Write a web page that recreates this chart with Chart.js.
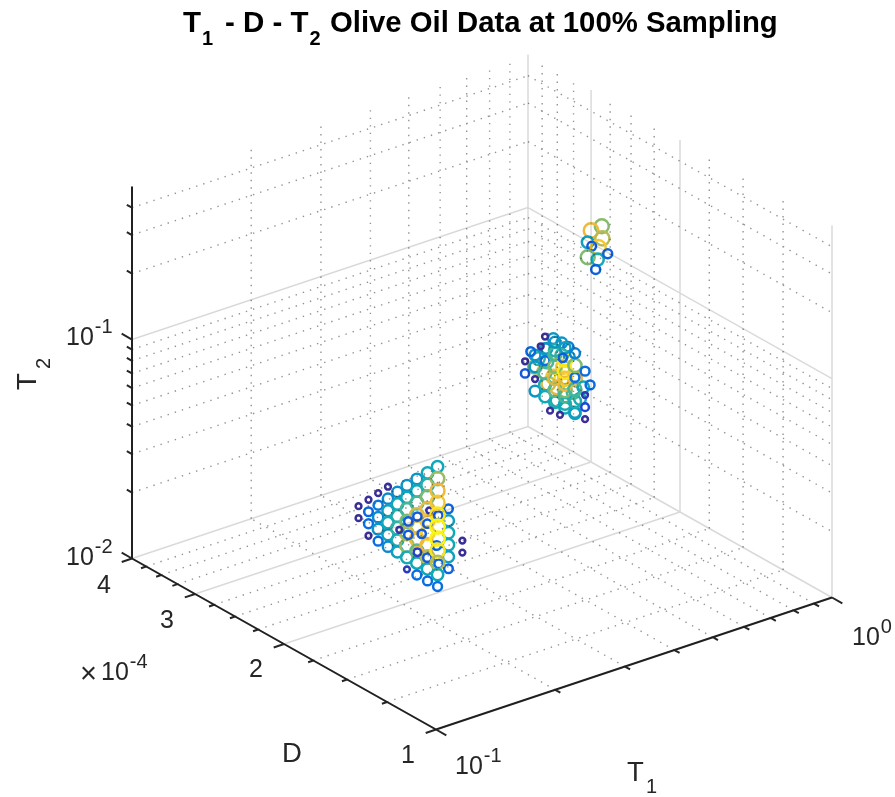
<!DOCTYPE html>
<html>
<head>
<meta charset="utf-8">
<title>T1 - D - T2 Olive Oil Data</title>
<style>
html, body { margin: 0; padding: 0; background: #fff; }
canvas { display: block; }
</style>
<script src="https://cdn.jsdelivr.net/npm/chart.js@4"></script>
</head>
<body>
<canvas id="oilChart" width="895" height="797"></canvas>
<script>
// axis limits and ticks (D is in units of 1e-4)
const t1Lim = [0.1, 1];
const dLim = [1, 4];
const t2Lim = [0.01, 0.5];
const t1Minor = [0.2, 0.3, 0.4, 0.5, 0.6, 0.7, 0.8, 0.9];
const dMajor = [1, 2, 3, 4];
const dMinor = [1.25, 1.5, 1.75, 2.25, 2.5, 2.75, 3.25, 3.5, 3.75];
const t2Major = [0.01, 0.1];
const t2Minor = [0.02, 0.03, 0.04, 0.05, 0.06, 0.07, 0.08, 0.09, 0.2, 0.3, 0.4];

// T1 of each of the three peaks
const lowT1 = 0.2;
const midT1 = 0.4;
const topT1 = 0.6;

// lowest peak
const lowD = [
    2.452, 2.452,
    2.343, 2.343, 2.343, 2.343,
    2.242, 2.242, 2.242, 2.242, 2.242,
    2.144, 2.144, 2.144, 2.144, 2.144, 2.144,
    2.053, 2.053, 2.053, 2.053, 2.053, 2.053,
    1.966, 1.966, 1.966, 1.966, 1.966, 1.966, 1.966, 1.966,
    1.879, 1.879, 1.879, 1.879, 1.879, 1.879, 1.879, 1.879, 1.879,
    1.527, 1.527,
    1.627, 1.627, 1.627, 1.627, 1.627, 1.627,
    1.790, 1.790, 1.790, 1.790, 1.790, 1.790, 1.790, 1.790, 1.790, 1.790,
    1.954, 2.036, 1.954, 1.875, 1.776, 1.704, 1.875, 1.792, 1.701, 1.717, 1.838, 1.792,
    1.710, 1.710, 1.710, 1.710, 1.710, 1.710, 1.710, 1.710, 1.710, 1.710, 1.710
];
const lowT2 = [
    0.02154, 0.01899,
    0.02444, 0.02154, 0.01899, 0.01674,
    0.02773, 0.02444, 0.02154, 0.01899, 0.01674,
    0.03146, 0.02773, 0.02444, 0.02154, 0.01899, 0.01674,
    0.03146, 0.02773, 0.02444, 0.02154, 0.01899, 0.01674,
    0.03568, 0.03146, 0.02773, 0.02444, 0.02154, 0.01899, 0.01674, 0.01476,
    0.04048, 0.03568, 0.03146, 0.02773, 0.02444, 0.02154, 0.01899, 0.01674, 0.01476,
    0.02773, 0.02444,
    0.03568, 0.03146, 0.02773, 0.02444, 0.02154, 0.01899,
    0.04593, 0.04048, 0.03568, 0.03146, 0.02773, 0.02444, 0.02154, 0.01899, 0.01674, 0.01476,
    0.02463, 0.02138, 0.0214, 0.02735, 0.03128, 0.03134, 0.01879, 0.01882, 0.01889, 0.02261, 0.0234, 0.0269,
    0.0521, 0.04593, 0.04048, 0.03568, 0.03146, 0.02773, 0.02444, 0.02154, 0.01899, 0.01674, 0.01476
];
const lowAmp = [
    0, 0,
    0, 0.18, 0.2, 0,
    0, 0.22, 0.27, 0.3, 0.2,
    0, 0.27, 0.33, 0.35, 0.33, 0.27,
    0.28, 0.35, 0.4, 0.45, 0.38, 0.33,
    0.3, 0.35, 0.5, 0.6, 0.7, 0.65, 0.37, 0.05,
    0.3, 0.35, 0.5, 0.75, 0.8, 0.8, 0.55, 0.35, 0.2,
    0, 0,
    0.18, 0.32, 0.35, 0.35, 0.33, 0.18,
    0.35, 0.42, 0.6, 0.8, 0.85, 0.9, 0.8, 0.7, 0.35, 0.2,
    0.15, 0.02, 0.15, 0.15, 0.02, 0.15, 0.08, 0.15, 0.18, 0.18, 0.15, 0.15,
    0.35, 0.65, 0.8, 0.85, 0.95, 1, 1, 0.95, 0.7, 0.35, 0.2
];

// middle peak
const midD = [
    1.737, 1.672, 1.622, 1.79, 1.724, 1.672, 1.615, 1.86, 1.79, 1.724, 1.66, 1.888, 1.812,
    1.737, 1.672, 1.574, 1.538, 1.647, 1.71, 1.586, 1.647, 1.71, 1.777, 1.574, 1.647, 1.515,
    1.976, 1.976,
    1.888, 1.888, 1.888, 1.888,
    1.804, 1.804, 1.804, 1.804, 1.804, 1.804,
    1.724, 1.724, 1.724, 1.724, 1.724, 1.724,
    1.647, 1.647, 1.647, 1.647, 1.647, 1.647,
    1.574, 1.574, 1.574, 1.574, 1.574, 1.574,
    1.503, 1.503, 1.503, 1.503,
    1.685, 1.763, 1.84, 1.926, 1.469, 1.664
];
const midT2 = [
    0.1292, 0.1298, 0.1294, 0.1119, 0.1154, 0.1139, 0.1172, 0.0958, 0.0973, 0.0969, 0.1018, 0.0861, 0.0862,
    0.0864, 0.0892, 0.0677, 0.0803, 0.0697, 0.0687, 0.0827, 0.0802, 0.079, 0.078, 0.0962, 0.0907, 0.0925,
    0.0758, 0.0861,
    0.0668, 0.0758, 0.0861, 0.0976,
    0.0668, 0.0758, 0.0861, 0.0976, 0.1107, 0.1257,
    0.0668, 0.0758, 0.0861, 0.0976, 0.1107, 0.1257,
    0.0668, 0.0758, 0.0861, 0.0976, 0.1107, 0.1257,
    0.0668, 0.0758, 0.0861, 0.0976, 0.1107, 0.1257,
    0.0668, 0.0758, 0.0861, 0.1107,
    0.0603, 0.0594, 0.1106, 0.0987, 0.0987, 0.1116
];
const midAmp = [
    0.3, 0.3, 0.25, 0.33, 0.4, 0.45, 0.3, 0.45, 0.5, 0.75, 0.85, 0.6, 0.7,
    0.85, 0.95, 0.33, 0.38, 0.38, 0.4, 0.5, 0.6, 0.78, 0.75, 0.8, 0.85, 0.35,
    0.15, 0,
    0.3, 0, 0.3, 0.3,
    0.35, 0.38, 0.5, 0.2, 0.3, 0,
    0.37, 0.55, 0.75, 0.6, 0.5, 0.3,
    0.35, 0.5, 0.8, 0.95, 0.95, 0.32,
    0.33, 0.4, 0.5, 0.2, 0.6, 0.25,
    0, 0.1, 0.05, 0.2,
    0, 0, 0, 0.18, 0.2, 0.15
];

// top peak
const topD = [1.914, 2.01, 1.909, 2.041, 1.944, 2.004, 2.041, 1.95, 1.863, 1.968];
const topT2 = [0.2908, 0.2609, 0.257, 0.2261, 0.2285, 0.2221, 0.1931, 0.2, 0.2254, 0.1779];
const topAmp = [0.62, 0.8, 0.7, 0.33, 0.85, 0.15, 0.6, 0.36, 0.17, 0.17];

const titleParts = ["T", "1", "- D - T", "2", "Olive Oil Data at 100% Sampling"];

const ink = "#262626";
const sans = '"Liberation Sans", Arial, sans-serif';

function frac(v, lim) {
    return Math.log(v / lim[0]) / Math.log(lim[1] / lim[0]);
}

// MATLAB style 3-D view: fractions of each log axis to chart coordinates
function view(a, b, c) {
    return { x: 436 + 396 * a - 304 * b, y: 729.5 - 132 * a - 171 * b - 372 * c };
}

function project(t1, d, t2) {
    return view(frac(t1, t1Lim), frac(d, dLim), frac(t2, t2Lim));
}

// one line dataset out of many separate segments
function segments(list, color, width, dash) {
    const data = [];
    list.forEach(s => {
        data.push(s[0], s[1], { x: NaN, y: NaN });
    });
    return {
        type: "line",
        data: data,
        borderColor: color,
        borderWidth: width,
        borderDash: dash || [],
        borderCapStyle: "butt",
        pointRadius: 0,
        fill: false,
        spanGaps: false,
        clip: false,
        tension: 0
    };
}

function gridLines(t1s, ds, t2s) {
    const out = [];
    t1s.forEach(t => {
        out.push([project(t, dLim[0], t2Lim[0]), project(t, dLim[1], t2Lim[0])]); // floor
        out.push([project(t, dLim[1], t2Lim[0]), project(t, dLim[1], t2Lim[1])]); // D wall
    });
    ds.forEach(d => {
        out.push([project(t1Lim[0], d, t2Lim[0]), project(t1Lim[1], d, t2Lim[0])]); // floor
        out.push([project(t1Lim[1], d, t2Lim[0]), project(t1Lim[1], d, t2Lim[1])]); // T1 wall
    });
    t2s.forEach(t => {
        out.push([project(t1Lim[0], dLim[1], t), project(t1Lim[1], dLim[1], t)]);
        out.push([project(t1Lim[1], dLim[1], t), project(t1Lim[1], dLim[0], t)]);
    });
    return out;
}

function axisLines() {
    const out = [
        [project(t1Lim[0], dLim[0], t2Lim[0]), project(t1Lim[1], dLim[0], t2Lim[0])],
        [project(t1Lim[0], dLim[1], t2Lim[0]), project(t1Lim[0], dLim[0], t2Lim[0])],
        [project(t1Lim[0], dLim[1], t2Lim[0]), project(t1Lim[0], dLim[1], t2Lim[1])]
    ];
    const t1Tick = (t, len) => {
        const a = frac(t, t1Lim);
        out.push([view(a, 0, 0), view(a, -len, 0)]);
    };
    const dTick = (d, len) => {
        const b = frac(d, dLim);
        out.push([view(0, b, 0), view(-len, b, 0)]);
    };
    const t2Tick = (t, len) => {
        const c = frac(t, t2Lim);
        out.push([view(0, 1, c), view(0, 1 + len, c)]);
    };
    t1Lim.forEach(t => t1Tick(t, 0.034));
    t1Minor.forEach(t => t1Tick(t, 0.017));
    dMajor.forEach(d => dTick(d, 0.026));
    dMinor.forEach(d => dTick(d, 0.013));
    t2Major.forEach(t => t2Tick(t, 0.034));
    t2Minor.forEach(t => t2Tick(t, 0.017));
    return out;
}

// parula-like colours for the peak amplitude
const ampStops = [
    [0, [58, 46, 152]],
    [0.1, [30, 70, 215]],
    [0.2, [8, 110, 225]],
    [0.35, [15, 168, 185]],
    [0.5, [70, 182, 150]],
    [0.65, [155, 188, 95]],
    [0.8, [240, 185, 60]],
    [1, [250, 245, 20]]
];

function ampColor(v) {
    let i = 0;
    while (i < ampStops.length - 2 && v > ampStops[i + 1][0]) i++;
    const p = ampStops[i], q = ampStops[i + 1];
    const f = (v - p[0]) / (q[0] - p[0]);
    const rgb = p[1].map((c, k) => Math.round(c + (q[1][k] - c) * f));
    return "rgb(" + rgb.join(",") + ")";
}

function ampRadius(v) {
    if (v < 0.06) return 2.9;
    if (v < 0.25) return 3.6 + (v - 0.06) * 6;
    if (v < 0.45) return 5 + (v - 0.25) * 7;
    return 6.4 + (v - 0.45) * 1.5;
}

function peak(t1, ds, t2s, amps, scale) {
    return {
        type: "scatter",
        data: ds.map((d, i) => project(t1, d, t2s[i])),
        showLine: false,
        clip: false,
        pointStyle: "circle",
        pointBackgroundColor: "rgba(0,0,0,0)",
        pointBorderColor: amps.map(ampColor),
        pointBorderWidth: 2.5,
        pointRadius: amps.map(a => ampRadius(a) * scale)
    };
}

function put(ctx, s, x, y, size, bold) {
    ctx.font = (bold ? "bold " : "") + size + "px " + sans;
    ctx.fillText(s, x, y);
    return x + ctx.measureText(s).width;
}

function power(ctx, x, y, exp) {
    const end = put(ctx, "10", x, y, 25);
    put(ctx, exp, end + 1, y - 12, 20);
}

const labelPlugin = {
    id: "labels",
    afterDraw(chart) {
        const ctx = chart.ctx;
        ctx.save();
        ctx.fillStyle = "#000";
        ctx.textAlign = "left";
        ctx.textBaseline = "alphabetic";
        put(ctx, titleParts[0], 183, 31.5, 29.5, true);
        put(ctx, titleParts[1], 202, 45, 20, true);
        put(ctx, titleParts[2], 225, 31.5, 29.5, true);
        put(ctx, titleParts[3], 309.5, 45, 20, true);
        put(ctx, titleParts[4], 330, 31.5, 29.3, true);
        ctx.fillStyle = ink;
        power(ctx, 66, 345, "-1");
        power(ctx, 66, 565, "-2");
        power(ctx, 455, 774, "-1");
        power(ctx, 852, 645, "0");
        put(ctx, "4", 97, 593, 25);
        put(ctx, "3", 160, 628, 25);
        put(ctx, "2", 249, 677, 25);
        put(ctx, "1", 401, 763, 25);
        put(ctx, "\u00d7", 80, 683, 29);
        power(ctx, 101, 680, "-4");
        put(ctx, "D", 282, 762, 27.5);
        put(ctx, "T", 627, 781, 27.5);
        put(ctx, "1", 646, 793, 20);
        ctx.translate(36, 390);
        ctx.rotate(-Math.PI / 2);
        put(ctx, "T", 0, 0, 27.5);
        put(ctx, "2", 21, 14, 20);
        ctx.restore();
    }
};

new Chart(document.getElementById("oilChart").getContext("2d"), {
    type: "scatter",
    data: {
        datasets: [
            segments(gridLines([], dMajor, []).concat(gridLines(t1Lim, [], t2Major)), "rgba(0,0,0,0.15)", 1.5),
            segments(gridLines(t1Minor, dMinor, t2Minor), "rgba(40,40,40,0.5)", 1.4, [1.4, 6.1]),
            segments(axisLines(), ink, 2),
            peak(lowT1, lowD, lowT2, lowAmp, 1),
            peak(midT1, midD, midT2, midAmp, 1),
            peak(topT1, topD, topT2, topAmp, 1.05)
        ]
    },
    options: {
        responsive: false,
        animation: false,
        events: [],
        layout: { padding: 0, autoPadding: false },
        plugins: { legend: { display: false }, tooltip: { enabled: false }, title: { display: false } },
        scales: {
            x: { type: "linear", display: false, min: 0, max: 895 },
            y: { type: "linear", display: false, min: 0, max: 797, reverse: true }
        }
    },
    plugins: [labelPlugin]
});
</script>
</body>
</html>
